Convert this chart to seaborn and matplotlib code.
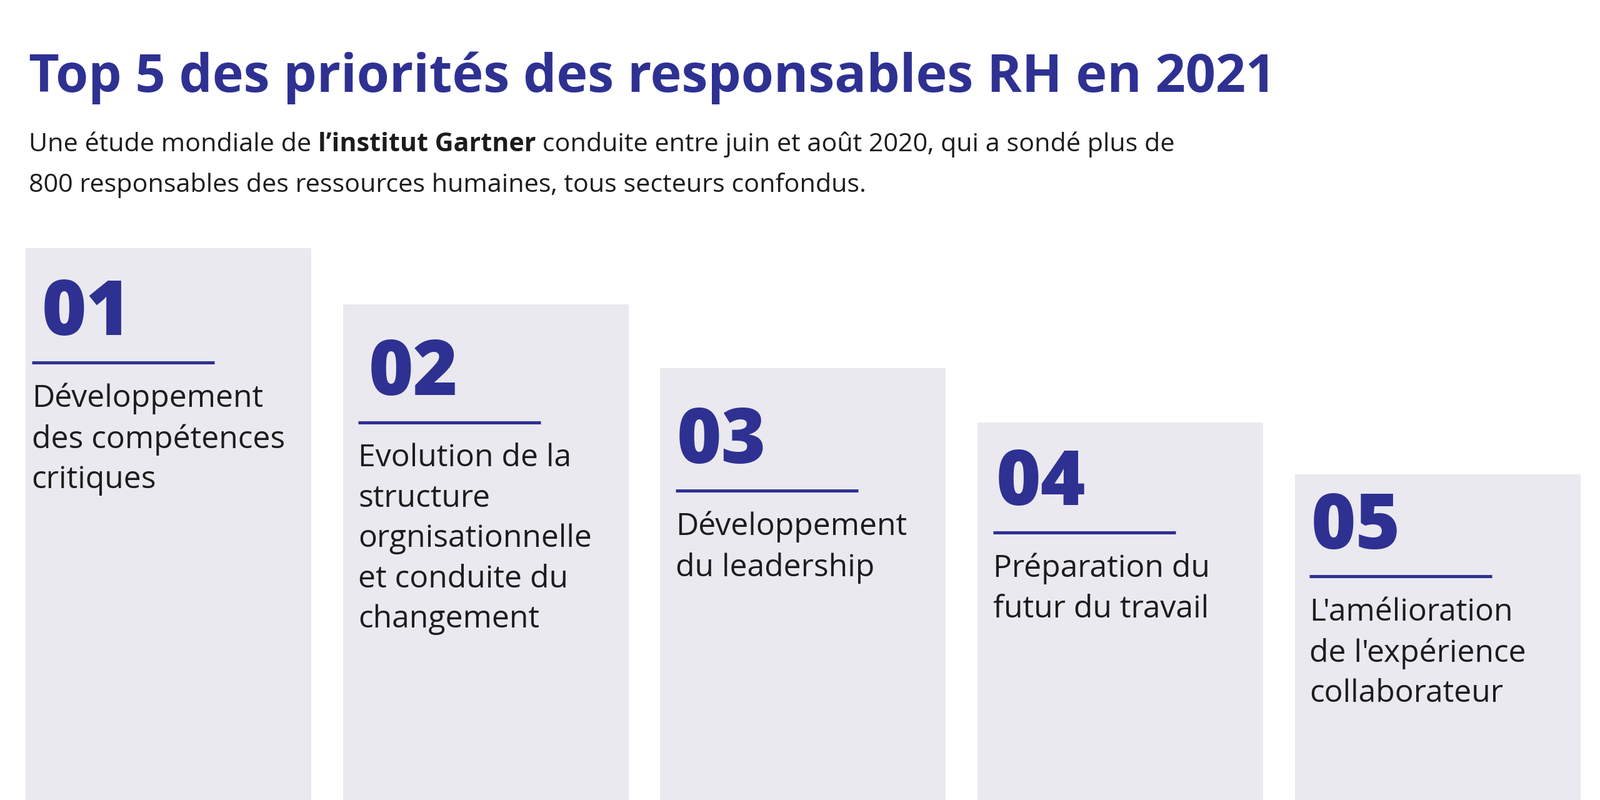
import matplotlib
matplotlib.use('Agg')
import matplotlib.pyplot as plt
import seaborn as sns
import pandas as pd

# données
rangs = ["01", "02", "03", "04", "05"]
hauteurs = [541, 486, 423, 370, 319]   # hauteur des colonnes (px de l'image à 1568x784)
libelles = [
    "Développement\ndes compétences\ncritiques",
    "Evolution de la\nstructure\norgnisationnelle\net conduite du\nchangement",
    "Développement\ndu leadership",
    "Préparation du\nfutur du travail",
    "L'amélioration\nde l'expérience\ncollaborateur",
]

BLEU = "#2E3192"
GRIS = "#EAE9EF"
NOIR = "#1c1c1c"
FONT = "Open Sans"

# petits décalages de mise en page, colonne par colonne
dx_ligne = [6, 15, 15, 15, 14]
dx_num = [10, 10, 1, 3, 2]
dy_ligne = [112, 116, 120, 108, 100]

df = pd.DataFrame({"rang": rangs, "hauteur": hauteurs})

fig = plt.figure(figsize=(25.6, 12.8), dpi=100)
fig.patch.set_facecolor("white")
W, H = 1568, 784
s = 2560 / 1568

# axes des colonnes : 5 catégories de 311 px
ax = fig.add_axes([9.5 / W, 0, 1555 / W, 1])
sns.barplot(data=df, x="rang", y="hauteur", color=GRIS, width=0.9, ax=ax, saturation=1)
ax.set_xlim(-0.5, 4.5)
ax.set_ylim(0, H)
ax.axis("off")

u = 1 / 311  # px -> unités de catégorie
for i, (r, h, lab) in enumerate(zip(rangs, hauteurs, libelles)):
    x0 = i - 0.45 + dx_ligne[i] * u
    yl = h - dy_ligne[i]
    ax.text(x0 + dx_num[i] * u, yl + 27, r, fontsize=54 * s, fontweight="heavy", color=BLEU,
            family=FONT, va="baseline", ha="left")
    ax.plot([x0, x0 + 179 * u], [yl, yl], color=BLEU, lw=2.2 * s, solid_capstyle="butt")
    ax.text(x0, yl - 20, lab, fontsize=22 * s, color=NOIR, family=FONT,
            va="top", ha="left", linespacing=1.4)

# titre et sous-titre
fig.text(28 / W, 1 - 90 / H, "Top 5 des priorités des responsables RH en 2021",
         fontsize=37.2 * s, fontweight="bold", color=BLEU, family=FONT, va="baseline")

r = fig.canvas.get_renderer()
x = 28 / W
y1 = 1 - 148 / H
for txt, w in [("Une étude mondiale de ", "normal"), ("l’institut Gartner", "bold"),
               (" conduite entre juin et août 2020, qui a sondé plus de", "normal")]:
    t = fig.text(x, y1, txt, fontsize=18.2 * s, fontweight=w, color=NOIR, family=FONT,
                 va="baseline")
    x += t.get_window_extent(r).width / fig.bbox.width
fig.text(28 / W, 1 - 188 / H,
         "800 responsables des ressources humaines, tous secteurs confondus.",
         fontsize=18.2 * s, color=NOIR, family=FONT, va="baseline")

fig.savefig("out.png", dpi=100)
